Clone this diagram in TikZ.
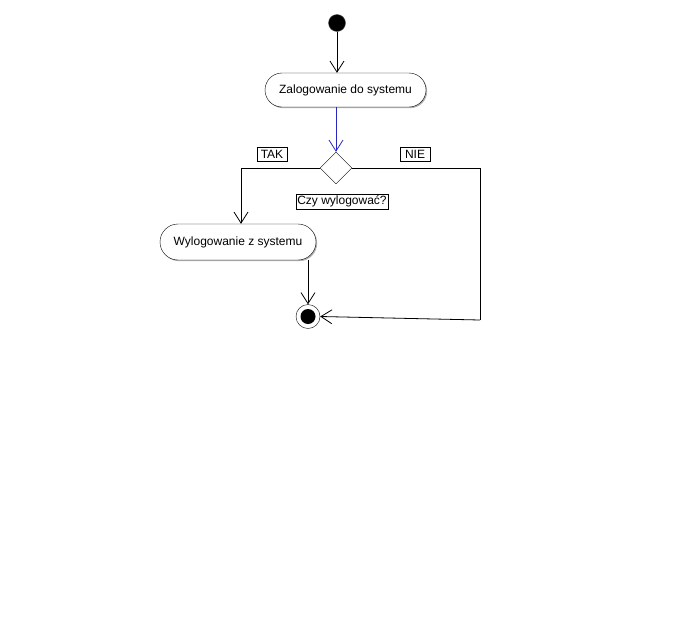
\documentclass[tikz,border=0pt]{standalone}
\usepackage{fontspec}
\setmainfont{Liberation Sans}
\usetikzlibrary{arrows.meta,shapes.misc,shapes.geometric,shadows}
\definecolor{flowblue}{RGB}{40,40,190}
\begin{document}
\begin{tikzpicture}[x=1pt,y=-1pt,
  every node/.style={font=\fontsize{12}{14}\selectfont},
  activity/.style={draw,rounded rectangle,inner sep=0pt,fill=white,
    drop shadow={shadow xshift=1.2pt,shadow yshift=-1.2pt,fill=black!30,opacity=1}},
  guard/.style={draw,rectangle,inner sep=0pt,line width=0.8pt},
  flow/.style={line width=0.8pt,-{Straight Barb[length=11pt,width=14pt,line width=0.8pt]}},
  plainline/.style={line width=0.8pt}]
\useasboundingbox (0,0) rectangle (674,632);

% states
\node[circle,fill=black,draw=black!70,minimum size=17pt,inner sep=0pt] (start) at (337,23) {};
\node[activity,minimum width=161pt,minimum height=34pt] (login) at (345.5,90) {Zalogowanie do systemu};
\node[diamond,draw,aspect=1,inner sep=0pt,minimum width=32pt,minimum height=32pt] (dec) at (336,168) {};
\node[activity,minimum width=156pt,minimum height=36pt] (logout) at (238,242) {Wylogowanie z systemu};
\node[circle,draw,minimum size=24pt,inner sep=0pt] (end) at (308,316.5) {};
\node[circle,fill=black,minimum size=15pt,inner sep=0pt] (endcore) at (end) {};

% guard labels
\node[guard,minimum width=30pt,minimum height=14pt] (tak) at (272,154) {TAK};
\node[guard,minimum width=30pt,minimum height=14pt] (nie) at (415,154) {NIE};
\node[guard,minimum width=92pt,minimum height=15pt] (cond) at (342,201.5) {Czy wylogować?};

% bend points
\coordinate (leftturn) at (241,168);
\coordinate (rightturn) at (480,168);
\coordinate (rightdown) at (480,320);

% flows
\draw[flow] (start) -- (start |- login.north);
\draw[flow,draw=flowblue,color=flowblue] (dec |- login.south) -- (dec.north);
\draw[flow] (dec.west) -- (leftturn) -- (leftturn |- logout.north);
\draw[flow] (logout.south -| end) -- (end.north);
\draw[plainline] (dec.east) -- (rightturn) -- (rightdown);
\draw[flow] (rightdown) -- (end.east);
\end{tikzpicture}
\end{document}
